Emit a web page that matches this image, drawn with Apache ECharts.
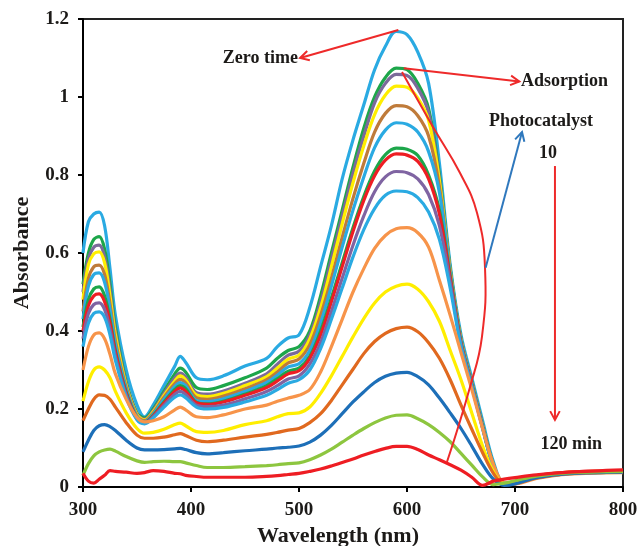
<!DOCTYPE html>
<html>
<head>
<meta charset="utf-8">
<script src="https://cdn.jsdelivr.net/npm/echarts@6/dist/echarts.min.js"></script>
<style>
  html, body { margin: 0; padding: 0; background: #fff; }
  #chart { width: 639px; height: 546px; }
</style>
</head>
<body>
<div id="chart"></div>
<script>
// Wavelength grid (nm) shared by every spectrum
const wavelengths = [300,305,310,315,320,325,330,340,350,357,365,375,385,390,395,405,415,430,450,470,480,490,500,
  510,520,530,540,550,560,570,580,590,600,610,620,630,640,650,660,670,680,690,700,720,750,800];

// Absorbance spectra, from zero time down to 120 min
const scan01 = [0.60,0.68,0.70,0.705,0.67,0.56,0.44,0.30,0.21,0.18,0.21,0.26,0.31,0.335,0.32,0.28,0.275,0.285,0.31,0.33,0.36,0.382,0.39,
  0.46,0.565,0.67,0.79,0.89,0.98,1.07,1.13,1.168,1.16,1.115,1.035,0.83,0.57,0.39,0.28,0.17,0.065,0.01,0.012,0.028,0.037,0.04];
const scan02 = [0.52,0.60,0.635,0.642,0.61,0.52,0.41,0.27,0.19,0.177,0.2,0.245,0.29,0.305,0.295,0.255,0.25,0.26,0.28,0.305,0.33,0.35,0.36,
  0.40,0.49,0.60,0.71,0.82,0.92,1.0,1.05,1.074,1.07,1.035,0.97,0.80,0.56,0.38,0.27,0.16,0.058,0.008,0.012,0.027,0.036,0.04];
const scan03 = [0.50,0.585,0.615,0.62,0.59,0.505,0.40,0.265,0.187,0.174,0.196,0.24,0.28,0.292,0.282,0.242,0.238,0.246,0.266,0.29,0.315,0.338,0.348,
  0.39,0.475,0.585,0.695,0.805,0.90,0.985,1.035,1.058,1.055,1.022,0.96,0.79,0.555,0.378,0.268,0.158,0.057,0.008,0.011,0.026,0.035,0.039];
const scan04 = [0.48,0.57,0.598,0.603,0.575,0.49,0.39,0.26,0.185,0.172,0.193,0.235,0.272,0.285,0.275,0.236,0.232,0.24,0.26,0.283,0.305,0.328,0.338,
  0.38,0.46,0.565,0.675,0.78,0.875,0.955,1.005,1.028,1.025,0.997,0.94,0.785,0.553,0.376,0.266,0.157,0.056,0.008,0.012,0.028,0.038,0.041];
const scan05 = [0.45,0.535,0.565,0.569,0.545,0.47,0.375,0.255,0.182,0.17,0.19,0.23,0.265,0.276,0.267,0.229,0.225,0.233,0.252,0.275,0.295,0.318,0.328,
  0.365,0.44,0.535,0.64,0.74,0.83,0.91,0.958,0.978,0.975,0.952,0.90,0.77,0.55,0.374,0.265,0.156,0.055,0.008,0.011,0.026,0.036,0.04];
const scan06 = [0.43,0.515,0.545,0.549,0.525,0.455,0.365,0.25,0.18,0.168,0.187,0.225,0.258,0.268,0.26,0.222,0.219,0.226,0.245,0.268,0.287,0.308,0.316,
  0.35,0.42,0.515,0.615,0.71,0.795,0.87,0.915,0.934,0.93,0.91,0.86,0.755,0.545,0.372,0.264,0.155,0.055,0.008,0.01,0.025,0.035,0.039];
const scan07 = [0.41,0.48,0.508,0.513,0.49,0.43,0.35,0.243,0.177,0.166,0.184,0.218,0.25,0.26,0.252,0.217,0.213,0.22,0.238,0.26,0.278,0.297,0.305,
  0.335,0.40,0.485,0.575,0.665,0.745,0.81,0.852,0.869,0.866,0.85,0.80,0.71,0.54,0.37,0.263,0.154,0.054,0.008,0.011,0.027,0.036,0.04];
const scan08 = [0.40,0.465,0.49,0.495,0.475,0.42,0.345,0.24,0.176,0.165,0.182,0.215,0.245,0.254,0.246,0.216,0.212,0.218,0.235,0.255,0.272,0.29,0.298,
  0.33,0.39,0.475,0.565,0.655,0.735,0.798,0.838,0.854,0.851,0.835,0.79,0.70,0.535,0.368,0.262,0.153,0.054,0.008,0.013,0.029,0.038,0.042];
const scan09 = [0.38,0.445,0.468,0.472,0.455,0.405,0.335,0.235,0.174,0.164,0.18,0.21,0.238,0.245,0.237,0.21,0.206,0.21,0.226,0.245,0.26,0.277,0.285,
  0.315,0.37,0.45,0.535,0.62,0.695,0.757,0.795,0.809,0.806,0.79,0.75,0.67,0.525,0.365,0.26,0.152,0.053,0.008,0.01,0.025,0.035,0.039];
const scan10 = [0.36,0.42,0.445,0.449,0.435,0.39,0.325,0.23,0.172,0.162,0.177,0.205,0.23,0.236,0.229,0.205,0.2,0.204,0.218,0.235,0.25,0.266,0.275,
  0.30,0.355,0.43,0.51,0.59,0.66,0.714,0.748,0.759,0.757,0.742,0.705,0.635,0.51,0.36,0.258,0.15,0.052,0.008,0.009,0.024,0.034,0.038];
const scan11 = [0.30,0.36,0.39,0.395,0.38,0.34,0.29,0.225,0.178,0.167,0.17,0.18,0.198,0.205,0.198,0.18,0.178,0.185,0.2,0.21,0.22,0.228,0.235,
  0.25,0.295,0.36,0.43,0.50,0.56,0.612,0.645,0.662,0.665,0.652,0.615,0.53,0.44,0.345,0.25,0.15,0.058,0.01,0.008,0.022,0.033,0.037];
const scan12 = [0.22,0.27,0.30,0.308,0.30,0.28,0.245,0.19,0.15,0.138,0.14,0.148,0.16,0.164,0.157,0.142,0.14,0.145,0.16,0.17,0.18,0.188,0.19,
  0.205,0.24,0.285,0.335,0.385,0.432,0.472,0.50,0.515,0.52,0.507,0.475,0.425,0.35,0.275,0.19,0.105,0.04,0.008,0.01,0.026,0.036,0.041];
const scan13 = [0.17,0.20,0.225,0.236,0.235,0.225,0.205,0.165,0.133,0.125,0.125,0.128,0.134,0.137,0.132,0.12,0.116,0.12,0.128,0.135,0.14,0.146,0.15,
  0.165,0.188,0.222,0.262,0.302,0.342,0.373,0.394,0.406,0.41,0.398,0.37,0.33,0.275,0.21,0.148,0.088,0.035,0.006,0.008,0.023,0.034,0.038];
const scan14 = [0.09,0.12,0.145,0.157,0.16,0.155,0.145,0.12,0.1,0.095,0.095,0.096,0.098,0.099,0.096,0.088,0.085,0.088,0.093,0.097,0.1,0.102,0.105,
  0.115,0.133,0.158,0.188,0.218,0.244,0.268,0.284,0.292,0.294,0.283,0.262,0.228,0.19,0.15,0.105,0.058,0.02,0.004,0.008,0.024,0.034,0.038];
const scan15 = [0.03,0.06,0.08,0.09,0.095,0.097,0.092,0.078,0.067,0.063,0.065,0.066,0.065,0.065,0.062,0.055,0.05,0.05,0.052,0.055,0.057,0.06,0.062,
  0.07,0.082,0.097,0.115,0.133,0.15,0.165,0.177,0.184,0.185,0.175,0.16,0.14,0.116,0.086,0.056,0.026,0.006,0.01,0.016,0.028,0.036,0.04];
const scan16 = [0.035,0.015,0.01,0.02,0.03,0.042,0.04,0.038,0.035,0.037,0.042,0.04,0.035,0.034,0.03,0.027,0.025,0.025,0.025,0.027,0.029,0.032,0.035,
  0.04,0.046,0.054,0.063,0.072,0.082,0.091,0.099,0.104,0.104,0.096,0.082,0.07,0.057,0.043,0.025,0.004,0.015,0.02,0.024,0.031,0.038,0.044];

const scans = [scan01,scan02,scan03,scan04,scan05,scan06,scan07,scan08,scan09,scan10,scan11,scan12,scan13,scan14,scan15,scan16];
const scanColors = ['#2AAAE2','#1DA64A','#7B6A9A','#FFEE00','#BF7B3A','#2AAAE2','#1DA64A','#EE1D23',
  '#7F64A2','#2AAAE2','#F7944A','#FFEE00','#E0691F','#1D6FB8','#8DC63F','#EE1D23'];

// Axis ticks
const xTicks = [300, 400, 500, 600, 700, 800];
const yTicks = [0, 0.2, 0.4, 0.6, 0.8, 1, 1.2];

// Annotation anchors in data units (wavelength, absorbance)
const zeroArrow = [[592, 1.172], [501, 1.10]];
const adsArrow = [[597, 1.074], [704, 1.040]];
const photoArrow = [[672.8, 0.562], [706.5, 0.910]];
const timeArrow = [[737, 0.823], [737, 0.172]];
const redArc = [[595.4,1.064],[624.1,0.923],[649.1,0.805],[664.8,0.703],[672.2,0.564],[669.4,0.385],[658.3,0.256],[637.0,0.064]];
const labels = [
  { text: 'Zero time', at: [499, 1.10], align: 'right' },
  { text: 'Adsorption', at: [705.5, 1.041], align: 'left' },
  { text: 'Photocatalyst', at: [724, 0.938], align: 'center' },
  { text: '10', at: [730.5, 0.856], align: 'center' },
  { text: '120 min', at: [752, 0.110], align: 'center' }
];

const serif = '"Liberation Serif", "Times New Roman", serif';
const inkColor = '#1c1a18';

const chart = echarts.init(document.getElementById('chart'), null, { renderer: 'canvas' });

const series = scans.map((vals, i) => ({
  type: 'line',
  data: wavelengths.map((w, k) => [w, vals[k]]),
  smooth: 0.35,
  showSymbol: false,
  silent: true,
  lineStyle: { color: scanColors[i], width: 3.2 },
  z: 2 + i
}));

chart.setOption({
  animation: false,
  backgroundColor: '#fff',
  grid: { left: 83, right: 16, top: 19, bottom: 59, outerBoundsMode: 'none', containLabel: false,
    show: true, borderColor: '#222', borderWidth: 2 },
  xAxis: {
    type: 'value', min: xTicks[0], max: xTicks[xTicks.length - 1], interval: 100,
    name: 'Wavelength (nm)', nameLocation: 'middle', nameGap: 35,
    nameTextStyle: { fontFamily: serif, fontWeight: 'bold', fontSize: 22, color: inkColor, padding: [0, 30, 0, 0] },
    axisLine: { lineStyle: { color: '#000', width: 2 } },
    axisTick: { inside: false, length: 5, lineStyle: { color: '#000', width: 2 } },
    axisLabel: { fontFamily: serif, fontWeight: 'bold', fontSize: 19, color: inkColor, margin: 14 },
    splitLine: { show: false }
  },
  yAxis: {
    type: 'value', min: yTicks[0], max: yTicks[yTicks.length - 1], interval: 0.2,
    name: 'Absorbance', nameLocation: 'middle', nameGap: 50,
    nameTextStyle: { fontFamily: serif, fontWeight: 'bold', fontSize: 22, color: inkColor },
    axisLine: { lineStyle: { color: '#000', width: 2 } },
    axisTick: { inside: false, length: 5, lineStyle: { color: '#000', width: 2 } },
    axisLabel: { fontFamily: serif, fontWeight: 'bold', fontSize: 19, color: inkColor, margin: 14,
      formatter: v => String(+v.toFixed(1)) },
    splitLine: { show: false }
  },
  series
});

// Annotation overlay: arrows, the bracket curve and text, placed through the grid's coordinate system
const toPx = p => chart.convertToPixel({ gridIndex: 0 }, p);

function arrowHead(tip, from, color, len, spread) {
  const a = Math.atan2(tip[1] - from[1], tip[0] - from[0]);
  const p1 = [tip[0] - len * Math.cos(a - spread), tip[1] - len * Math.sin(a - spread)];
  const p2 = [tip[0] - len * Math.cos(a + spread), tip[1] - len * Math.sin(a + spread)];
  return { type: 'polyline', z: 100, shape: { points: [p1, tip, p2] },
    style: { stroke: color, lineWidth: 2, fill: null, lineJoin: 'miter' } };
}

function arrow(pair, color) {
  const a = toPx(pair[0]), b = toPx(pair[1]);
  return [
    { type: 'line', z: 100, shape: { x1: a[0], y1: a[1], x2: b[0], y2: b[1] }, style: { stroke: color, lineWidth: 2 } },
    arrowHead(b, a, color, 10, 0.5)
  ];
}

const overlay = [];
overlay.push(...arrow(zeroArrow, '#EE2A2A'));
overlay.push(...arrow(adsArrow, '#EE2A2A'));
overlay.push(...arrow(photoArrow, '#2F78BD'));
overlay.push(...arrow(timeArrow, '#EE2A2A'));
overlay.push({ type: 'polyline', z: 99, shape: { points: redArc.map(toPx), smooth: 0.45 },
  style: { stroke: '#EE2A2A', lineWidth: 2, fill: null } });
labels.forEach(l => {
  const p = toPx(l.at);
  overlay.push({ type: 'text', z: 101, x: p[0], y: p[1],
    style: { text: l.text, fontFamily: serif, fontWeight: 'bold', fontSize: 18, fill: inkColor,
      align: l.align, verticalAlign: 'middle' } });
});
chart.setOption({ graphic: overlay });
</script>
</body>
</html>
